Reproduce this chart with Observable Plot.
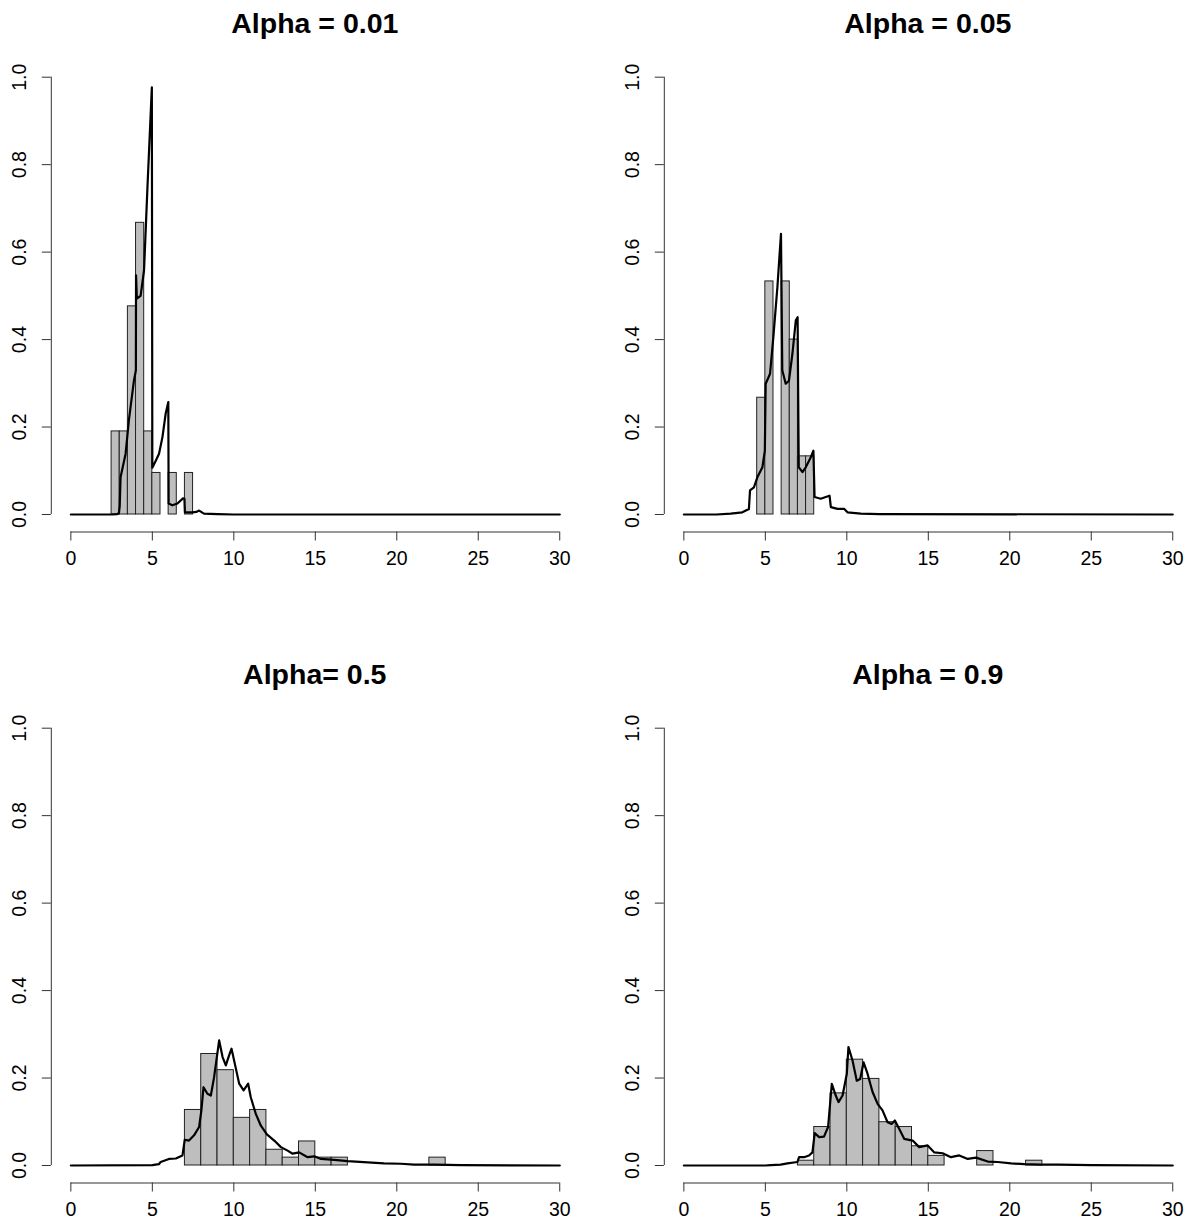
<!DOCTYPE html>
<html>
<head>
<meta charset="utf-8">
<script src="https://cdn.jsdelivr.net/npm/d3@7"></script>
<script src="https://cdn.jsdelivr.net/npm/@observablehq/plot@0.6"></script>
<style>
  body { margin: 0; background: #fff; }
  #chart { position: relative; width: 1199px; height: 1222px; background: #fff;
           font-family: "Liberation Sans", Arial, Helvetica, sans-serif; }
  .panel { position: absolute; }
  .title { position: absolute; font-weight: bold; font-size: 28.5px; line-height: 28.5px;
           text-align: center; white-space: nowrap; color: #000; }
</style>
</head>
<body>
<div id="chart"></div>
<script>
// ---------- data ----------
const titles = ["Alpha = 0.01", "Alpha = 0.05", "Alpha= 0.5", "Alpha = 0.9"];
const xTicks = [0, 5, 10, 15, 20, 25, 30];
const yTicks = [0, 0.2, 0.4, 0.6, 0.8, 1.0];
const xDomain = [-1.2, 31.2];
const yDomain = [-0.04, 1.04];

// histogram bins (lower edge) and densities
const binWidth1 = 0.5;
const binStart1 = [2.5, 3, 3.5, 4, 4.5, 5, 5.5, 6, 6.5, 7];
const density1  = [0.190, 0.190, 0.476, 0.667, 0.190, 0.095, 0, 0.095, 0, 0.095];

const binWidth2 = 0.5;
const binStart2 = [4.5, 5, 5.5, 6, 6.5, 7, 7.5];
const density2  = [0.267, 0.533, 0, 0.533, 0.400, 0.133, 0.133];

const binWidth3 = 1;
const binStart3 = [7, 8, 9, 10, 11, 12, 13, 14, 15, 16, 17, 18, 19, 20, 21, 22];
const density3  = [0.127, 0.255, 0.218, 0.109, 0.127, 0.036, 0.018, 0.055, 0.018, 0.018, 0, 0, 0, 0, 0, 0.018];

const binWidth4 = 1;
const binStart4 = [7, 8, 9, 10, 11, 12, 13, 14, 15, 16, 17, 18, 19, 20, 21];
const density4  = [0.011, 0.088, 0.165, 0.242, 0.198, 0.099, 0.088, 0.044, 0.022, 0, 0, 0.033, 0, 0, 0.011];

// density curves
const lineX1 = [0, 2.5, 2.85, 2.95, 3.0, 3.05, 3.36, 3.56, 3.87, 3.99, 4.0, 4.05, 4.28, 4.49, 4.7, 4.97, 5.0, 5.21, 5.41, 5.62, 5.82, 5.98, 6.0, 6.23, 6.54, 6.88, 6.97, 7.0, 7.46, 7.7, 7.87, 8.17, 9, 10, 30];
const lineY1 = [0, 0, 0.001, 0.003, 0.02, 0.085, 0.139, 0.215, 0.306, 0.33, 0.547, 0.494, 0.5, 0.558, 0.748, 0.977, 0.107, 0.123, 0.139, 0.177, 0.231, 0.257, 0.025, 0.021, 0.025, 0.037, 0.036, 0.005, 0.005, 0.006, 0.009, 0.002, 0.001, 0, 0];

const lineX2 = [0, 2.0, 2.87, 3.59, 3.9, 3.99, 4.06, 4.3, 4.51, 4.82, 4.97, 5.02, 5.29, 5.49, 5.74, 5.96, 6.04, 6.25, 6.45, 6.66, 6.87, 6.98, 7.05, 7.28, 7.48, 7.79, 7.95, 8.02, 8.4, 8.71, 8.94, 9.02, 9.43, 9.83, 10.04, 10.86, 12, 30];
const lineY2 = [0, 0, 0.002, 0.005, 0.011, 0.012, 0.055, 0.062, 0.085, 0.108, 0.146, 0.299, 0.322, 0.405, 0.52, 0.642, 0.33, 0.299, 0.306, 0.367, 0.444, 0.451, 0.108, 0.097, 0.108, 0.131, 0.146, 0.04, 0.036, 0.04, 0.043, 0.017, 0.013, 0.013, 0.005, 0.002, 0.001, 0];

const lineX3 = [0, 5.0, 5.4, 5.51, 6.02, 6.44, 6.85, 6.99, 7.25, 7.56, 7.87, 8.01, 8.14, 8.38, 8.59, 8.79, 9.1, 9.31, 9.51, 9.71, 9.86, 10.06, 10.33, 10.6, 10.88, 11.04, 11.35, 11.66, 12.03, 12.48, 12.89, 13.3, 13.61, 14.01, 14.53, 14.94, 15.35, 16.16, 16.99, 18.22, 19.22, 20.26, 21.06, 22.29, 23.95, 30];
const lineY3 = [0, 0.001, 0.003, 0.008, 0.015, 0.016, 0.023, 0.059, 0.057, 0.069, 0.088, 0.126, 0.179, 0.164, 0.16, 0.202, 0.286, 0.248, 0.229, 0.252, 0.267, 0.233, 0.187, 0.172, 0.187, 0.156, 0.118, 0.091, 0.071, 0.057, 0.042, 0.034, 0.027, 0.03, 0.019, 0.021, 0.015, 0.013, 0.01, 0.007, 0.005, 0.004, 0.002, 0.002, 0.001, 0];

const lineX4 = [0, 5.0, 5.33, 5.94, 6.36, 6.97, 7.07, 7.38, 7.68, 7.89, 8.03, 8.3, 8.6, 8.85, 9.08, 9.32, 9.49, 9.74, 10.0, 10.1, 10.35, 10.61, 10.82, 11.03, 11.27, 11.58, 11.89, 12.19, 12.5, 12.75, 12.95, 13.21, 13.52, 14.04, 14.44, 14.96, 15.37, 15.88, 16.39, 16.9, 17.42, 17.93, 18.65, 19.26, 20.08, 20.9, 21.92, 23, 25, 30];
const lineY4 = [0, 0, 0.001, 0.002, 0.005, 0.008, 0.019, 0.019, 0.023, 0.03, 0.074, 0.065, 0.066, 0.088, 0.187, 0.16, 0.145, 0.16, 0.21, 0.271, 0.24, 0.194, 0.198, 0.236, 0.21, 0.168, 0.141, 0.126, 0.099, 0.095, 0.103, 0.084, 0.061, 0.057, 0.042, 0.046, 0.03, 0.028, 0.019, 0.023, 0.015, 0.018, 0.009, 0.008, 0.005, 0.003, 0.002, 0.002, 0.001, 0];

// ---------- layout ----------
const panels = [
  {title: titles[0], left: 0,   top: 0,   width: 600, height: 600, binWidth: binWidth1, binStart: binStart1, density: density1, lx: lineX1, ly: lineY1},
  {title: titles[1], left: 613, top: 0,   width: 586, height: 600, binWidth: binWidth2, binStart: binStart2, density: density2, lx: lineX2, ly: lineY2},
  {title: titles[2], left: 0,   top: 651, width: 600, height: 571, binWidth: binWidth3, binStart: binStart3, density: density3, lx: lineX3, ly: lineY3},
  {title: titles[3], left: 613, top: 651, width: 586, height: 571, binWidth: binWidth4, binStart: binStart4, density: density4, lx: lineX4, ly: lineY4}
];

const FONT = '"Liberation Sans", Arial, Helvetica, sans-serif';
const regionLeft = 50.8, regionRight = 578.8, regionTop = 59.2, regionBottom = 531.5;
const titleSize = 28.5;
const chart = document.getElementById("chart");

for (const p of panels) {
  const bars = p.binStart.map((x, i) => ({x1: x, x2: x + p.binWidth, y: p.density[i]})).filter(d => d.y > 0);
  const line = p.lx.map((x, i) => ({x, y: p.ly[i]}));
  const svg = Plot.plot({
    width: p.width,
    height: p.height,
    marginLeft: regionLeft,
    marginRight: p.width - regionRight,
    marginTop: regionTop,
    marginBottom: p.height - regionBottom,
    x: {domain: xDomain},
    y: {domain: yDomain},
    style: {fontFamily: FONT, fontSize: "19.5px", color: "#000", background: "transparent", overflow: "visible"},
    marks: [
      Plot.rectY(bars, {x1: "x1", x2: "x2", y1: 0, y2: "y", fill: "#bebebe", stroke: "#222", strokeWidth: 1, inset: 0}),
      Plot.line(line, {x: "x", y: "y", stroke: "#000", strokeWidth: 2.2, strokeLinejoin: "round"}),
      Plot.ruleY([yDomain[0]], {x1: xTicks[0], x2: xTicks[xTicks.length - 1], stroke: "#333", strokeWidth: 1}),
      Plot.ruleX([xDomain[0]], {y1: yTicks[0], y2: yTicks[yTicks.length - 1], stroke: "#333", strokeWidth: 1}),
      Plot.axisX({ticks: xTicks, tickSize: 9, tickPadding: 10, tickFormat: d => String(d), anchor: "bottom", stroke: "#333", label: null}),
      Plot.axisY({ticks: yTicks, tickSize: 9, tickPadding: 16, tickRotate: -90, tickFormat: d => d.toFixed(1), anchor: "left", stroke: "#333", label: null})
    ]
  });
  svg.classList.add("panel");
  svg.style.left = p.left + "px";
  svg.style.top = p.top + "px";
  chart.appendChild(svg);

  const t = document.createElement("div");
  t.className = "title";
  t.textContent = p.title;
  t.style.left = (p.left + regionLeft) + "px";
  t.style.width = (regionRight - regionLeft) + "px";
  t.style.top = (p.top + 22.5 - 0.4885 * titleSize) + "px";
  chart.appendChild(t);
}
</script>
</body>
</html>
